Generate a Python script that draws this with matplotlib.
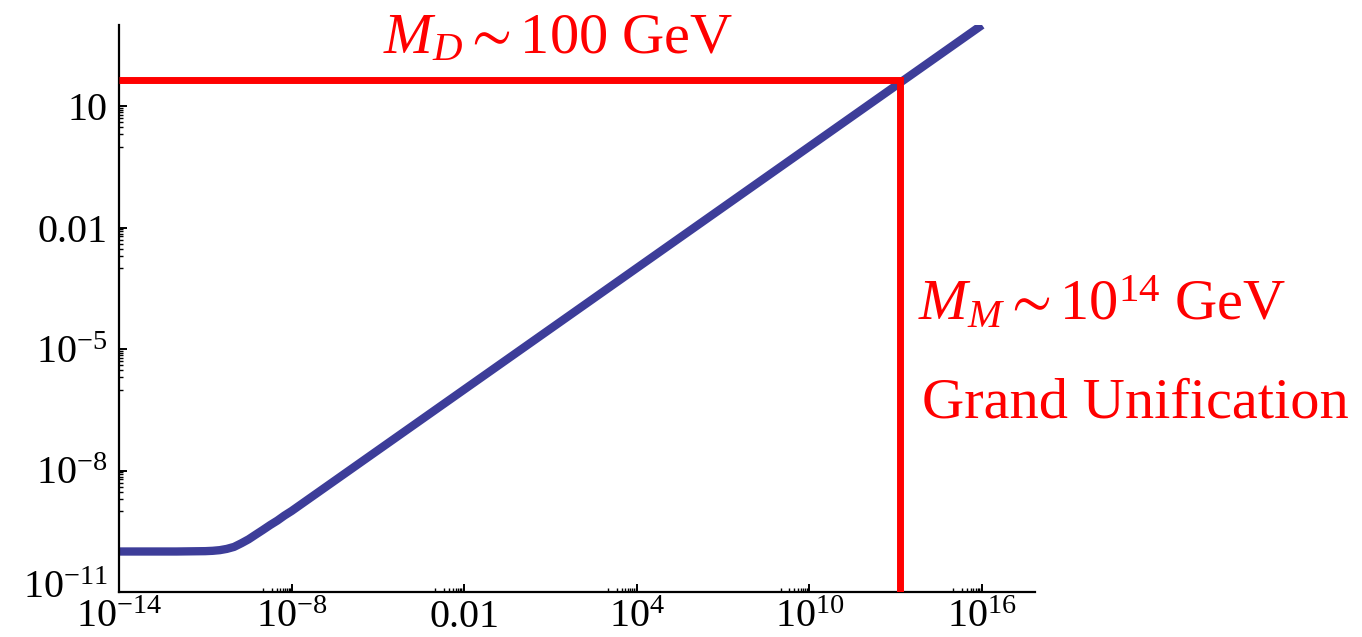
import matplotlib
matplotlib.use("Agg")
from matplotlib import pyplot as plt
from matplotlib.ticker import FixedLocator, FixedFormatter, NullFormatter
from matplotlib.transforms import ScaledTranslation

# curve (log-log)
curve_x = [1e-14, 1e-12, 1e-11, 1.8e-11, 3.2e-11, 5.6e-11, 1e-10, 1.8e-10, 3.2e-10,
           5.6e-10, 1e-9, 1.8e-9, 3.2e-9, 5.6e-9, 1e-8, 1e16]
curve_y = [1.0e-10, 1.0e-10, 1.02e-10, 1.04e-10, 1.08e-10, 1.16e-10, 1.3e-10, 1.6e-10, 2.0e-10,
           2.6e-10, 3.4e-10, 4.5e-10, 5.8e-10, 7.7e-10, 1.0e-9, 1.0e3]

# red guide lines
md_level = 45.0
mm_scale = 1.4e13

x_major = [1e-14, 1e-8, 1e-2, 1e4, 1e10, 1e16]
x_labels = [r"$\mathregular{10^{-14}}$", r"$\mathregular{10^{-8}}$", "0.01",
            r"$\mathregular{10^{4}}$", r"$\mathregular{10^{10}}$", r"$\mathregular{10^{16}}$"]
y_major = [1e-11, 1e-8, 1e-5, 1e-2, 1e1]
y_labels = [r"$\mathregular{10^{-11}}$", r"$\mathregular{10^{-8}}$", r"$\mathregular{10^{-5}}$",
            "0.01", "10"]

plt.rcParams["font.family"] = ["Liberation Serif", "DejaVu Serif"]
plt.rcParams["mathtext.fontset"] = "custom"
plt.rcParams["mathtext.rm"] = "Liberation Serif"
plt.rcParams["mathtext.it"] = "Liberation Serif:italic"
plt.rcParams["mathtext.fallback"] = "stix"

BLUE = "#3d3d99"
RED = "#ff0000"

fig = plt.figure(figsize=(13.62, 6.37), dpi=100)
ax = fig.add_axes([119 / 1362, 45 / 637, (1035 - 119) / 1362, (592 - 25) / 637])

ax.plot(curve_x, curve_y, color=BLUE, lw=6, solid_capstyle="butt", zorder=2)
ax.plot([1e-14, mm_scale, mm_scale], [md_level, md_level, 1e-11], color=RED, lw=5,
        solid_joinstyle="miter", solid_capstyle="butt", zorder=3)

ax.set_xscale("log")
ax.set_yscale("log")
ax.set_xlim(1e-14, 10 ** 17.84)
ax.set_ylim(1e-11, 1e3)

# minor ticks: only the decade just below each labelled one
x_minor = [k * m / 10 for m in x_major[1:] for k in range(1, 10)]
y_minor = [k * m / 10 for m in y_major[1:] for k in range(1, 10)]
ax.xaxis.set_major_locator(FixedLocator(x_major))
ax.xaxis.set_major_formatter(FixedFormatter(x_labels))
ax.xaxis.set_minor_locator(FixedLocator(x_minor))
ax.xaxis.set_minor_formatter(NullFormatter())
ax.yaxis.set_major_locator(FixedLocator(y_major))
ax.yaxis.set_major_formatter(FixedFormatter(y_labels))
ax.yaxis.set_minor_locator(FixedLocator(y_minor))
ax.yaxis.set_minor_formatter(NullFormatter())

for s in ["top", "right"]:
    ax.spines[s].set_visible(False)
for s in ["left", "bottom"]:
    ax.spines[s].set_linewidth(1.6)
ax.tick_params(which="major", direction="in", length=6, width=1.4, labelsize=29)
ax.tick_params(which="minor", direction="in", length=3, width=1.0)
ax.tick_params(axis="x", which="major", pad=5)
ax.tick_params(axis="y", which="major", pad=8)

# lift the bottom y label a little so it clears the first x label
lbl = ax.yaxis.get_majorticklabels()[0]
lbl.set_transform(lbl.get_transform() + ScaledTranslation(0, 6 / 72, fig.dpi_scale_trans))

fig.text(383 / 1362, (637 - 53) / 637, r"$M_D \sim \mathrm{100\ GeV}$",
         color=RED, fontsize=42, ha="left", va="baseline")
fig.text(918 / 1362, (637 - 320) / 637, r"$M_M \sim \mathrm{10^{14}\ GeV}$",
         color=RED, fontsize=42, ha="left", va="baseline")
fig.text(922 / 1362, (637 - 417) / 637, "Grand Unification",
         color=RED, fontsize=42, ha="left", va="baseline")

fig.savefig("out.png", dpi=100)
